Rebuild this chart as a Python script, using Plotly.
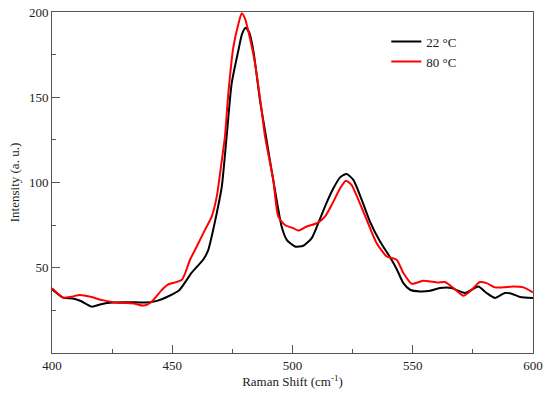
import plotly.graph_objects as go

# 22 °C series (black)
x_22 = [400, 404.6, 408.7, 412, 416.6, 420, 424, 430, 435, 440.7, 444, 448, 453, 458, 463,
        465, 466.4, 468.5, 470.6, 472.6, 474.7, 477.5, 479, 480.5, 482, 483.7, 486.5, 489,
        489.9, 492.7, 495.5, 497.6, 501, 504.5, 508, 510.7, 513.5, 517, 519.8, 522.5, 525.3,
        528.8, 532.2, 536.4, 540.5, 543.3, 546.1, 548.9, 553, 557.2, 561.3, 566.2, 568.9,
        571.7, 574.5, 577.3, 580.7, 584.2, 588.3, 591.1, 594.6, 600]
y_22 = [37.5, 32.5, 32, 30.5, 27.2, 28.5, 29.5, 29.7, 29.7, 29.7, 30.7, 33, 37, 47, 55,
        60.5, 68.3, 82, 97.5, 126.8, 158, 177.5, 187, 190.8, 188, 177.5, 148, 126.8,
        119, 95.6, 74, 66.4, 62.5, 62.9, 67.4, 76.1, 85.9, 96.6, 103, 105, 101.5,
        89.8, 77.1, 65.4, 56.3, 49.3, 41, 37.1, 36.1, 36.5, 38.1, 38.1, 36.5,
        35.2, 37.1, 39, 35.2, 32.3, 35.2, 34.8, 32.9, 32.3]

# 80 °C series (red)
x_80 = [400, 404.6, 408, 411.6, 416, 421, 427, 434, 438, 441, 445.7, 448, 454, 457.4, 460.2,
        463.6, 466.4, 468.5, 470.6, 471.9, 473.3, 475.4, 477.5, 478.9, 480.3, 481.6, 484.4,
        487.2, 488.6, 492, 494.1, 496.9, 500.3, 502.4, 505.9, 510.1, 513.5, 517, 519.8,
        522.2, 524.6, 527.4, 530.9, 535, 539.2, 543.3, 546.1, 549.6, 554.4, 557.2, 560.6,
        563.4, 566.9, 571, 573.8, 577.9, 580.7, 584.2, 587.6, 591.8, 596, 600]
y_80 = [38, 32.5, 33, 34, 33, 31, 29.5, 29, 27.8, 29.5, 37, 40, 43, 54.7, 62.5,
        72.2, 80, 91.7, 113, 126.8, 152, 179.4, 193, 199.3, 196, 189, 170,
        142, 126.8, 101.5, 80, 75.1, 73.2, 71.8, 74.2, 76.1, 80, 88.8, 96.6,
        101, 98.5, 89.8, 78, 64.4, 56.6, 54.7, 46.9, 40.6, 42.4, 42, 41.4,
        41.6, 38.1, 33.6, 36.1, 41.6, 41, 38.5, 38.5, 39, 38.5, 35.5]

x_ticks = [400, 450, 500, 550, 600]
x_minor = [425, 475, 525, 575]
y_ticks = [50, 100, 150, 200]
y_minor = [25, 75, 125, 175]

FONT = "Liberation Serif"
AX = "#555555"

fig = go.Figure()
fig.add_trace(go.Scatter(x=x_22, y=y_22, mode="lines", name="22 °C",
                         line=dict(color="black", width=2, shape="spline", smoothing=0.6)))
fig.add_trace(go.Scatter(x=x_80, y=y_80, mode="lines", name="80 °C",
                         line=dict(color="#ff0000", width=2, shape="spline", smoothing=0.6)))

fig.update_layout(
    width=550, height=398,
    margin=dict(l=52, r=17, t=12, b=45),
    paper_bgcolor="white", plot_bgcolor="white",
    font=dict(family=FONT, size=13, color="#222222"),
    showlegend=True,
    legend=dict(x=0.695, y=0.957, xanchor="left", yanchor="top",
                bgcolor="rgba(0,0,0,0)", font=dict(family=FONT, size=13),
                itemwidth=30, tracegroupgap=0),
    xaxis=dict(range=[400, 600], tickvals=x_ticks, ticks="inside", ticklen=8,
               tickcolor=AX, showline=True, linecolor=AX, linewidth=1, mirror=True,
               showgrid=False, zeroline=False, automargin=False,
               minor=dict(tickvals=x_minor, ticks="inside", ticklen=4, tickcolor=AX),
               title=dict(text="Raman Shift (cm<sup>-1</sup>)", standoff=4,
                          font=dict(family=FONT, size=13))),
    yaxis=dict(range=[0, 200], tickvals=y_ticks, ticks="inside", ticklen=8,
               tickcolor=AX, showline=True, linecolor=AX, linewidth=1, mirror=True,
               showgrid=False, zeroline=False, automargin=False,
               minor=dict(tickvals=y_minor, ticks="inside", ticklen=4, tickcolor=AX),
               title=dict(text="Intensity (a. u.)", standoff=6,
                          font=dict(family=FONT, size=13))),
)

fig.write_html("out.html", config={"displayModeBar": False},
               post_script="document.body.style.margin='0';document.body.style.padding='0';")
